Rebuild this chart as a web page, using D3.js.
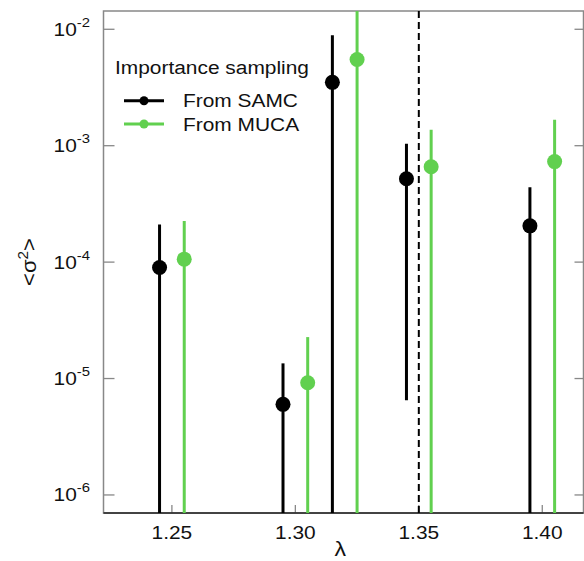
<!DOCTYPE html>
<html>
<head>
<meta charset="utf-8">
<script src="https://cdn.jsdelivr.net/npm/d3@7"></script>
<style>
  html, body { margin: 0; padding: 0; background: #fff; }
  text { font-family: "Liberation Sans", Arial, Helvetica, sans-serif; }
</style>
</head>
<body>
<svg id="chart" width="584" height="561"></svg>
<script>
// ---- data ----
const samcLambda = [1.245, 1.295, 1.315, 1.345, 1.395];
const samcValue  = [9.0e-5, 6.0e-6, 3.5e-3, 5.2e-4, 2.05e-4];
const samcUpper  = [2.1e-4, 1.35e-5, 8.9e-3, 1.04e-3, 4.4e-4];
const samcLower  = [0, 0, 0, 6.5e-6, 0];          // 0 = error bar reaches below the axis

const mucaLambda = [1.255, 1.305, 1.325, 1.355, 1.405];
const mucaValue  = [1.06e-4, 9.2e-6, 5.5e-3, 6.6e-4, 7.3e-4];
const mucaUpper  = [2.25e-4, 2.27e-5, 3.0e-2, 1.37e-3, 1.67e-3];
const mucaLower  = [0, 0, 0, 0, 0];

const xTicks = [1.25, 1.30, 1.35, 1.40];
const xTickLabels = ["1.25", "1.30", "1.35", "1.40"];
const yTickExps = [-2, -3, -4, -5, -6];
const criticalLambda = 1.35;

const legendTitle = "Importance sampling";
const seriesNames = ["From SAMC", "From MUCA"];
const seriesColors = ["#000000", "#61D04F"];

// ---- layout ----
const svg = d3.select("#chart");
const L = 103.5, R = 583.5, T = 11, B = 513;
const x = d3.scaleLinear().domain([1.2223, 1.4167]).range([L, R]);
const y = d3.scaleLog().domain([Math.pow(10, -6.155), Math.pow(10, -1.843)]).range([B, T]);
const frameColor = "#888";
const SX = 1.1;      // horizontal stretch of the reference's lettering
const FS = 19;

function addText(parent, px, py, size, anchor, rotate) {
  const g = parent.append("g")
    .attr("transform", `translate(${px},${py})` + (rotate ? ` rotate(${rotate})` : "") + ` scale(${SX},1)`);
  return g.append("text").attr("x", 0).attr("y", 0).attr("text-anchor", anchor)
    .attr("font-size", size).attr("fill", "#111");
}

svg.append("defs").append("clipPath").attr("id", "plotclip")
  .append("rect").attr("x", L).attr("y", T).attr("width", R - L).attr("height", B - T);

// frame
svg.append("rect").attr("x", L).attr("y", T).attr("width", R - L).attr("height", B - T)
  .attr("fill", "none").attr("stroke", frameColor).attr("stroke-width", 1.5);

// y ticks (inward) left and right
yTickExps.forEach(e => {
  const yy = y(Math.pow(10, e));
  svg.append("line").attr("x1", L).attr("x2", L + 11).attr("y1", yy).attr("y2", yy)
    .attr("stroke", frameColor).attr("stroke-width", 1.3);
  svg.append("line").attr("x1", R - 9).attr("x2", R).attr("y1", yy).attr("y2", yy)
    .attr("stroke", frameColor).attr("stroke-width", 1.3);
  const t = addText(svg, 90, yy + 6.5, FS, "end");
  t.append("tspan").text("10");
  t.append("tspan").attr("dy", -9).attr("font-size", 13.5).text(String(e));
});

// x ticks (inward) and labels
xTicks.forEach((v, i) => {
  const xx = x(v);
  svg.append("line").attr("x1", xx).attr("x2", xx).attr("y1", B).attr("y2", B - 8)
    .attr("stroke", frameColor).attr("stroke-width", 1.3);
  addText(svg, xx, 538.5, FS, "middle").text(xTickLabels[i]);
});

// bottom axis line (darker)
svg.append("line").attr("x1", L).attr("x2", R).attr("y1", B).attr("y2", B)
  .attr("stroke", "#222").attr("stroke-width", 1.5);

// axis titles
addText(svg, x(1.3182), 556, 21, "middle").text("λ");
const yl = addText(svg, 36, (T + B) / 2, 20, "middle", -90);
yl.append("tspan").text("<σ");
yl.append("tspan").attr("dy", -8).attr("font-size", 14).text("2");
yl.append("tspan").attr("dy", 8).text(">");

const plot = svg.append("g").attr("clip-path", "url(#plotclip)");

// dashed critical line
plot.append("line").attr("x1", x(criticalLambda)).attr("x2", x(criticalLambda))
  .attr("y1", T).attr("y2", B).attr("stroke", "#000").attr("stroke-width", 2)
  .attr("stroke-dasharray", "7,4");

function drawSeries(lam, val, up, lo, color) {
  const data = lam.map((l, i) => ({ l, v: val[i], u: up[i], lo: lo[i] }));
  plot.selectAll(null).data(data).enter().append("line")
    .attr("x1", d => x(d.l)).attr("x2", d => x(d.l))
    .attr("y1", d => y(d.u))
    .attr("y2", d => d.lo > 0 ? y(d.lo) : B + 5)
    .attr("stroke", color).attr("stroke-width", 3);
  plot.selectAll(null).data(data).enter().append("circle")
    .attr("cx", d => x(d.l)).attr("cy", d => y(d.v)).attr("r", 7.5)
    .attr("fill", color);
}
drawSeries(samcLambda, samcValue, samcUpper, samcLower, seriesColors[0]);
drawSeries(mucaLambda, mucaValue, mucaUpper, mucaLower, seriesColors[1]);

// legend
addText(svg, 115, 73.5, FS, "start").text(legendTitle);
seriesNames.forEach((name, i) => {
  const ly = 100.7 + i * 23.3;
  svg.append("line").attr("x1", 124).attr("x2", 164).attr("y1", ly).attr("y2", ly)
    .attr("stroke", seriesColors[i]).attr("stroke-width", 3);
  svg.append("circle").attr("cx", 144).attr("cy", ly).attr("r", 4.5).attr("fill", seriesColors[i]);
  addText(svg, 183, ly + 6.5, FS, "start").text(name);
});
</script>
</body>
</html>
